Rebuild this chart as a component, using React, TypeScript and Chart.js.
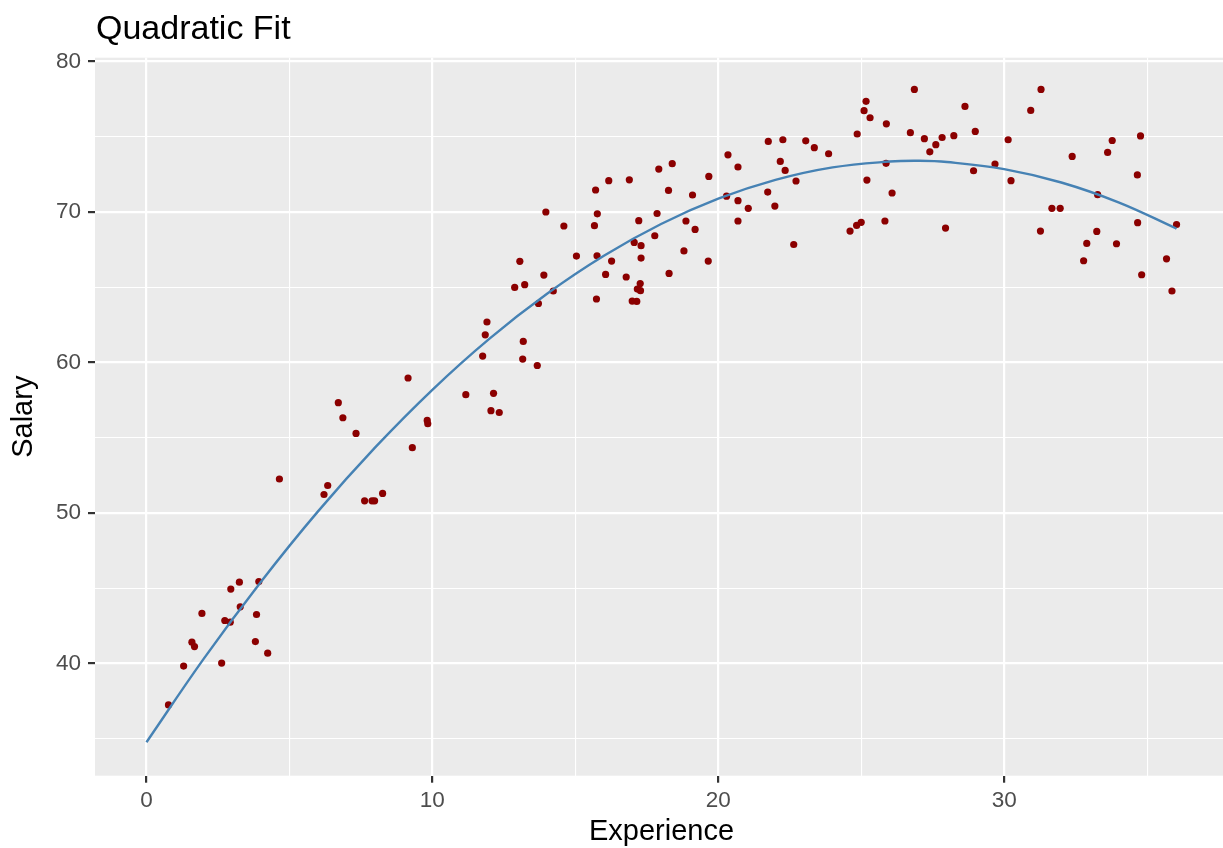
import React, { useEffect, useRef } from "react";
import { Chart, registerables } from "chart.js";

Chart.register(...registerables);

const TITLE = "Quadratic Fit";
const X_LABEL = "Experience";
const Y_LABEL = "Salary";

const experience = [
  0.77, 1.3, 1.59, 1.68, 1.94, 2.63, 2.74, 2.93, 2.95, 3.25, 3.28, 3.81, 3.85, 3.93, 4.24, 4.65,
  6.21, 6.34, 6.71, 6.87, 7.33, 7.63, 7.89, 7.98, 8.26, 9.15, 9.3, 9.82, 9.84,
  11.17, 11.76, 11.85, 11.91, 12.05, 12.14, 12.34, 12.88, 13.06, 13.16, 13.18, 13.23, 13.67, 13.71,
  13.9, 13.97, 14.23, 14.6, 15.04, 15.67, 15.71, 15.74, 15.76, 15.77, 16.06, 16.17, 16.27, 16.78,
  16.89, 16.99, 17.06, 17.15, 17.17, 17.27, 17.28, 17.22, 17.3, 17.3, 17.78, 17.86, 17.92, 18.26,
  18.28, 18.39, 18.8, 18.87, 19.1, 19.19, 19.65, 19.67, 20.29, 20.34, 20.69, 20.69, 20.69, 21.05,
  21.75, 21.73, 21.98, 22.17, 22.26, 22.34, 22.64, 22.72, 23.06, 23.36, 23.86, 24.61, 24.84, 24.86,
  25.0, 25.1, 25.17, 25.2, 25.31, 25.83, 25.87, 25.88, 26.08, 26.72, 26.86, 27.21, 27.4, 27.61,
  27.83, 27.95, 28.24, 28.63, 28.93, 28.99, 29.68, 30.14, 30.24, 30.93, 31.27, 31.29, 31.67, 31.96,
  32.38, 32.78, 32.89, 33.24, 33.27, 33.62, 33.78, 33.93, 34.66, 34.67, 34.77, 34.81, 35.68, 35.87,
  36.03,
];

const salary = [
  37.25, 39.83, 41.42, 41.13, 43.33, 40.03, 42.86, 42.75, 44.95, 45.41, 43.77, 41.46, 43.26, 45.45, 40.69, 52.26,
  51.23, 51.83, 57.33, 56.33, 55.29, 50.81, 50.81, 50.81, 51.3, 58.97, 54.34, 56.15, 55.93,
  57.86, 60.43, 61.84, 62.69, 56.8, 57.95, 56.68, 64.99, 66.72, 60.23, 61.4, 65.17, 59.8, 63.92,
  65.81, 70.0, 64.75, 69.07, 67.07, 69.09, 71.46, 64.22, 67.09, 69.88, 65.85, 72.08, 66.74, 65.68,
  72.14, 64.08, 67.98, 64.06, 64.88, 65.25, 64.77, 69.42, 67.76, 66.94, 68.42, 69.9, 72.85, 71.43,
  65.92, 73.21, 67.41, 69.4, 71.13, 68.84, 66.74, 72.36, 71.05, 73.8, 72.99, 70.75, 69.4, 70.24,
  74.69, 71.32, 70.39, 73.36, 74.8, 72.76, 67.84, 72.06, 74.73, 74.27, 73.87, 68.73, 69.11, 75.18,
  69.31, 76.73, 77.35, 72.12, 76.26, 69.4, 73.23, 75.86, 71.26, 75.27, 78.14, 74.87, 74.0, 74.47,
  74.95, 68.93, 75.07, 77.01, 72.74, 75.35, 73.18, 74.8, 72.08, 76.75, 68.73, 78.14, 70.24, 70.24,
  73.69, 66.76, 67.91, 68.71, 71.15, 73.96, 74.75, 67.89, 72.46, 69.29, 75.05, 65.83, 66.89, 64.75,
  69.17,
];

// fitted quadratic curve
const fitX = [0, 2, 4, 6, 8, 10, 12, 14, 16, 18, 20, 22, 24, 26, 27, 28, 30, 32, 34, 36, 36.03];
const fitY = [
  34.77, 40.31, 45.42, 50.11, 54.36, 58.19, 61.59, 64.55, 67.09, 69.2, 70.88, 72.13, 72.96, 73.35,
  73.4, 73.32, 72.85, 71.96, 70.64, 68.92, 68.88,
];

const xTicks = [0, 5, 10, 15, 20, 25, 30, 35];
const yTicks = [35, 40, 45, 50, 55, 60, 65, 70, 75, 80];
const xRange = [-1.8, 37.83];
const yRange = [32.55, 80.25];

const FONT = "'Liberation Sans', Arial, Helvetica, sans-serif";
const PANEL_BG = "#EBEBEB";
const GRID = "#FFFFFF";
const TICK_MARK = "#333333";
const TICK_TEXT = "#4D4D4D";
const POINT_COLOR = "#8B0000";
const LINE_COLOR = "#4682B4";

const CANVAS_W = 1232;
const CANVAS_H = 848;

const panelBackground = {
  id: "panelBackground",
  beforeDraw(chart: any) {
    const { ctx, chartArea } = chart;
    ctx.save();
    ctx.fillStyle = PANEL_BG;
    ctx.fillRect(chartArea.left, chartArea.top, chartArea.right - chartArea.left, chartArea.bottom - chartArea.top);
    ctx.restore();
  },
};

const plotTitle = {
  id: "plotTitle",
  afterDraw(chart: any) {
    const { ctx, chartArea } = chart;
    ctx.save();
    ctx.fillStyle = "#000000";
    ctx.font = `34px ${FONT}`;
    ctx.textAlign = "left";
    ctx.textBaseline = "alphabetic";
    ctx.fillText(TITLE, chartArea.left + 1, 39);
    ctx.restore();
  },
};

const isMajor = (v: number) => Math.abs(v % 10) < 1e-9;

export default function App() {
  const ref = useRef<HTMLCanvasElement | null>(null);

  useEffect(() => {
    if (!ref.current) return;
    const points = experience.map((x, i) => ({ x, y: salary[i] }));
    const fit = fitX.map((x, i) => ({ x, y: fitY[i] }));

    const gridOpts = {
      color: GRID,
      lineWidth: (c: any) => (c.tick && isMajor(c.tick.value) ? 2.2 : 1.1),
      drawTicks: true,
      tickLength: 7,
      tickWidth: 2.2,
      tickColor: (c: any) => (c.tick && isMajor(c.tick.value) ? TICK_MARK : "rgba(0,0,0,0)"),
    };

    const chart = new Chart(ref.current, {
      type: "scatter",
      data: {
        datasets: [
          {
            type: "line",
            data: fit,
            borderColor: LINE_COLOR,
            borderWidth: 2.4,
            pointRadius: 0,
            fill: false,
            tension: 0.4,
            order: 0,
          } as any,
          {
            type: "scatter",
            data: points,
            backgroundColor: POINT_COLOR,
            borderWidth: 0,
            pointRadius: 3.6,
            order: 1,
          },
        ],
      },
      options: {
        responsive: false,
        animation: false,
        devicePixelRatio: 1,
        layout: { padding: { top: 57.7, left: 0, right: 0, bottom: 0 } },
        plugins: {
          legend: { display: false },
          tooltip: { enabled: false },
        },
        scales: {
          x: {
            type: "linear",
            min: xRange[0],
            max: xRange[1],
            afterBuildTicks: (scale: any) => {
              scale.ticks = xTicks.map((v) => ({ value: v }));
            },
            afterFit: (scale: any) => {
              scale.height = CANVAS_H - 775.7;
            },
            ticks: {
              font: { family: FONT, size: 22.5 },
              color: TICK_TEXT,
              padding: 4.5,
              maxRotation: 0,
              autoSkip: false,
              callback: (v: any) => (isMajor(Number(v)) ? String(v) : ""),
            },
            grid: gridOpts as any,
            border: { display: false },
            title: {
              display: true,
              text: X_LABEL,
              color: "#000000",
              font: { family: FONT, size: 29, lineHeight: 1 },
              padding: { top: 0, bottom: 1.5 },
            },
          },
          y: {
            type: "linear",
            min: yRange[0],
            max: yRange[1],
            afterBuildTicks: (scale: any) => {
              scale.ticks = yTicks.map((v) => ({ value: v }));
            },
            afterFit: (scale: any) => {
              scale.width = 95;
            },
            ticks: {
              font: { family: FONT, size: 22.5 },
              color: TICK_TEXT,
              padding: 7,
              autoSkip: false,
              callback: (v: any) => (isMajor(Number(v)) ? String(v) : ""),
            },
            grid: gridOpts as any,
            border: { display: false },
            title: {
              display: true,
              text: Y_LABEL,
              color: "#000000",
              font: { family: FONT, size: 29, lineHeight: 1 },
              padding: { top: 9.5, bottom: 0 },
            },
          },
        },
      },
      plugins: [panelBackground, plotTitle],
    } as any);

    return () => chart.destroy();
  }, []);

  return (
    <div
      style={{
        position: "absolute",
        left: 0,
        top: 0,
        width: 1223,
        height: CANVAS_H,
        overflow: "hidden",
        background: "#FFFFFF",
      }}
    >
      <canvas ref={ref} width={CANVAS_W} height={CANVAS_H} style={{ display: "block", width: CANVAS_W, height: CANVAS_H }} />
    </div>
  );
}
